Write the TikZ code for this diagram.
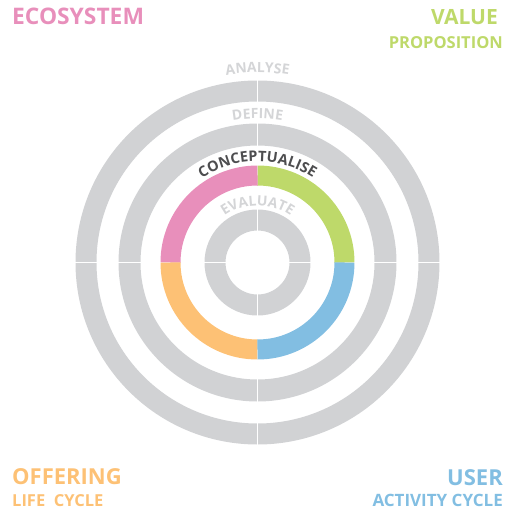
\documentclass[tikz,border=0pt]{standalone}
\usepackage{fontspec}
\setmainfont{Open Sans}[BoldFont={* Bold}]
\usetikzlibrary{decorations.text,calc}
\definecolor{ringgrey}{RGB}{209,210,212}
\definecolor{lightlab}{RGB}{212,213,215}
\definecolor{darklab}{RGB}{77,77,79}
\definecolor{cpink}{RGB}{232,143,187}
\definecolor{cgreen}{RGB}{190,217,106}
\definecolor{cblue}{RGB}{130,190,226}
\definecolor{corange}{RGB}{253,193,117}
\tikzset{
  ring/.style={draw=ringgrey},
  divider/.style={draw=white, line width=0.9pt},
  quarter/.style={line width=20pt},
  corner/.style={inner sep=0pt, font=\bfseries},
}
\begin{document}
\begin{tikzpicture}[x=1pt,y=1pt]
\useasboundingbox (0,0) rectangle (505,-512);
\coordinate (C) at (257.5,-262.5);
% grey rings
\draw[ring, line width=21pt] (C) circle[radius=171.5];
\draw[ring, line width=22pt] (C) circle[radius=128];
\draw[ring, line width=21pt] (C) circle[radius=42.5];
% dividers on grey rings
\foreach \a in {0,90,180,270}{
  \draw[divider] ($(C)+(\a:160)$) -- ($(C)+(\a:183)$);
  \draw[divider] ($(C)+(\a:116)$) -- ($(C)+(\a:140)$);
  \draw[divider] ($(C)+(\a:31)$) -- ($(C)+(\a:54)$);
}
% coloured ring
\draw[quarter, cgreen] ($(C)+(0:87)$) arc[start angle=0, end angle=90, radius=87];
\draw[quarter, cpink] ($(C)+(90:87)$) arc[start angle=90, end angle=180, radius=87];
\draw[quarter, corange] ($(C)+(180:87)$) arc[start angle=180, end angle=270, radius=87];
\draw[quarter, cblue] ($(C)+(270:87)$) arc[start angle=270, end angle=360, radius=87];
% curved labels
\path[decorate, decoration={text along path, text align=center,
  text={|\fontsize{14}{14}\selectfont\bfseries\color{lightlab}|ANALYSE}}]
  ($(C)+(180:190)$) arc[start angle=180, end angle=0, radius=190];
\path[decorate, decoration={text along path, text align=center,
  text={|\fontsize{14}{14}\selectfont\bfseries\color{lightlab}|DEFINE}}]
  ($(C)+(180:144)$) arc[start angle=180, end angle=0, radius=144];
\path[decorate, decoration={text along path, text align=center,
  text={|\fontsize{14.5}{14.5}\selectfont\bfseries\color{darklab}|CONCEPTUALISE}}]
  ($(C)+(180:101)$) arc[start angle=180, end angle=0, radius=101];
\path[decorate, decoration={text along path, text align=center,
  text={|\fontsize{14}{14}\selectfont\bfseries\color{lightlab}|EVALUATE}}]
  ($(C)+(180:57)$) arc[start angle=180, end angle=0, radius=57];
% corner labels
\node[corner, cpink, anchor=base west, font=\fontsize{22.8}{22.8}\selectfont\bfseries] (eco) at (12,-24) {ECOSYSTEM};
\node[corner, cgreen, anchor=base east, font=\fontsize{21}{21}\selectfont\bfseries] (val) at (498,-24) {VALUE};
\node[corner, cgreen, anchor=base east, font=\fontsize{16.5}{16.5}\selectfont\bfseries] (prop) at (503,-48) {PROPOSITION};
\node[corner, corange, anchor=base west, font=\fontsize{22}{22}\selectfont\bfseries] (off) at (12,-484) {OFFERING};
\node[corner, corange, anchor=base west, font=\fontsize{16.5}{16.5}\selectfont\bfseries] (life) at (12,-506) {LIFE\ \ CYCLE};
\node[corner, cblue, anchor=base east, font=\fontsize{22}{22}\selectfont\bfseries] (user) at (503,-485) {USER};
\node[corner, cblue, anchor=base east, font=\fontsize{17}{17}\selectfont\bfseries] (act) at (503,-506) {ACTIVITY CYCLE};
\end{tikzpicture}
\end{document}
